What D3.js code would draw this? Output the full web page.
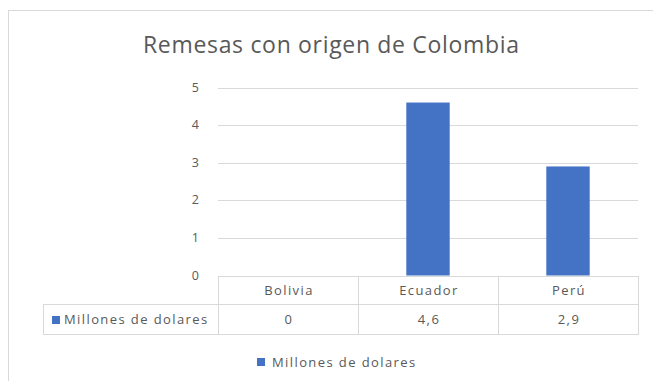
<!DOCTYPE html>
<head>
    <meta charset="utf-8">
    <style>
        body { margin: 0; background: #fff; }
        svg { font-family: "Open Sans", sans-serif; }
        .grid line { stroke: #d9d9d9; stroke-width: 1px; }
        .bar { fill: #4472c4; }
        .cell { fill: none; stroke: #d9d9d9; stroke-width: 1px; }
        text { fill: #595959; }
        .tbl { font-size: 13px; letter-spacing: 1.4px; }
    </style>
</head>
<body>
    <script src="https://d3js.org/d3.v7.min.js"></script>
    <script>
        var categories = ['Bolivia', 'Ecuador', 'Perú'];
        var values = [0, 4.6, 2.9];
        var value_labels = ['0', '4,6', '2,9'];
        var series_name = 'Millones de dolares';
        var y_ticks = [0, 1, 2, 3, 4, 5];
        var title = 'Remesas con origen de Colombia';

        var W = 653, H = 381;
        var plot = {left: 218, right: 638, top: 87.5, bottom: 275.5};
        var table = {left: 43, top: 276.5, mid: 304.5, bottom: 334.5};

        var svg = d3.select('body')
                    .append('svg')
                    .attr('width', W)
                    .attr('height', H);

        // chart frame
        svg.append('rect')
           .attr('x', 8.5).attr('y', 10.5)
           .attr('width', W).attr('height', H)
           .attr('fill', 'none')
           .attr('stroke', '#d9d9d9');

        svg.append('text')
           .attr('x', 143).attr('y', 53)
           .attr('textLength', 376)
           .attr('lengthAdjust', 'spacing')
           .style('font-size', '23px')
           .text(title);

        var x_scale = d3.scaleBand()
                        .domain(categories)
                        .range([plot.left, plot.right]);
        var y_scale = d3.scaleLinear()
                        .domain([0, 5])
                        .range([plot.bottom, plot.top]);

        // gridlines
        svg.append('g')
           .attr('class', 'grid')
           .selectAll('line')
           .data(y_ticks.filter(d => d > 0))
           .enter()
           .append('line')
           .attr('x1', plot.left).attr('x2', plot.right)
           .attr('y1', d => Math.round(y_scale(d)) + 0.5)
           .attr('y2', d => Math.round(y_scale(d)) + 0.5);

        // y labels
        svg.append('g')
           .selectAll('text')
           .data(y_ticks)
           .enter()
           .append('text')
           .attr('x', 199)
           .attr('y', d => y_scale(d) + 4)
           .attr('text-anchor', 'end')
           .style('font-size', '12.5px')
           .text(d => d);

        // bars
        var bw = x_scale.bandwidth() * 0.31;
        svg.selectAll('.bar')
           .data(values)
           .enter()
           .append('rect')
           .attr('class', 'bar')
           .attr('x', (d, i) => x_scale(categories[i]) + (x_scale.bandwidth() - bw) / 2)
           .attr('y', d => y_scale(d))
           .attr('width', bw)
           .attr('height', d => y_scale(0) - y_scale(d));

        // data table
        var tg = svg.append('g');
        categories.forEach(function(c, i) {
            tg.append('rect')
              .attr('class', 'cell')
              .attr('x', x_scale(c) + 0.5).attr('y', table.top)
              .attr('width', x_scale.bandwidth())
              .attr('height', table.mid - table.top);
            tg.append('rect')
              .attr('class', 'cell')
              .attr('x', x_scale(c) + 0.5).attr('y', table.mid)
              .attr('width', x_scale.bandwidth())
              .attr('height', table.bottom - table.mid);
            tg.append('text')
              .attr('class', 'tbl')
              .attr('x', x_scale(c) + x_scale.bandwidth() / 2 + 1)
              .attr('y', (table.top + table.mid) / 2 + 4.5)
              .attr('text-anchor', 'middle')
              .text(c);
            tg.append('text')
              .attr('class', 'tbl')
              .attr('x', x_scale(c) + x_scale.bandwidth() / 2 + 1)
              .attr('y', (table.mid + table.bottom) / 2 + 4.5)
              .attr('text-anchor', 'middle')
              .text(value_labels[i]);
        });
        tg.append('rect')
          .attr('class', 'cell')
          .attr('x', table.left + 0.5).attr('y', table.mid)
          .attr('width', plot.left - table.left)
          .attr('height', table.bottom - table.mid);
        tg.append('rect')
          .attr('x', 52).attr('y', (table.mid + table.bottom) / 2 - 3.5)
          .attr('width', 8).attr('height', 8)
          .attr('fill', '#4472c4');
        tg.append('text')
          .attr('class', 'tbl')
          .attr('x', 64)
          .attr('y', (table.mid + table.bottom) / 2 + 4.5)
          .text(series_name);

        // legend
        var lg = svg.append('g');
        lg.append('rect')
          .attr('x', 257).attr('y', 358)
          .attr('width', 8).attr('height', 8)
          .attr('fill', '#4472c4');
        lg.append('text')
          .attr('class', 'tbl')
          .attr('x', 272).attr('y', 367)
          .text(series_name);
    </script>
</body>
